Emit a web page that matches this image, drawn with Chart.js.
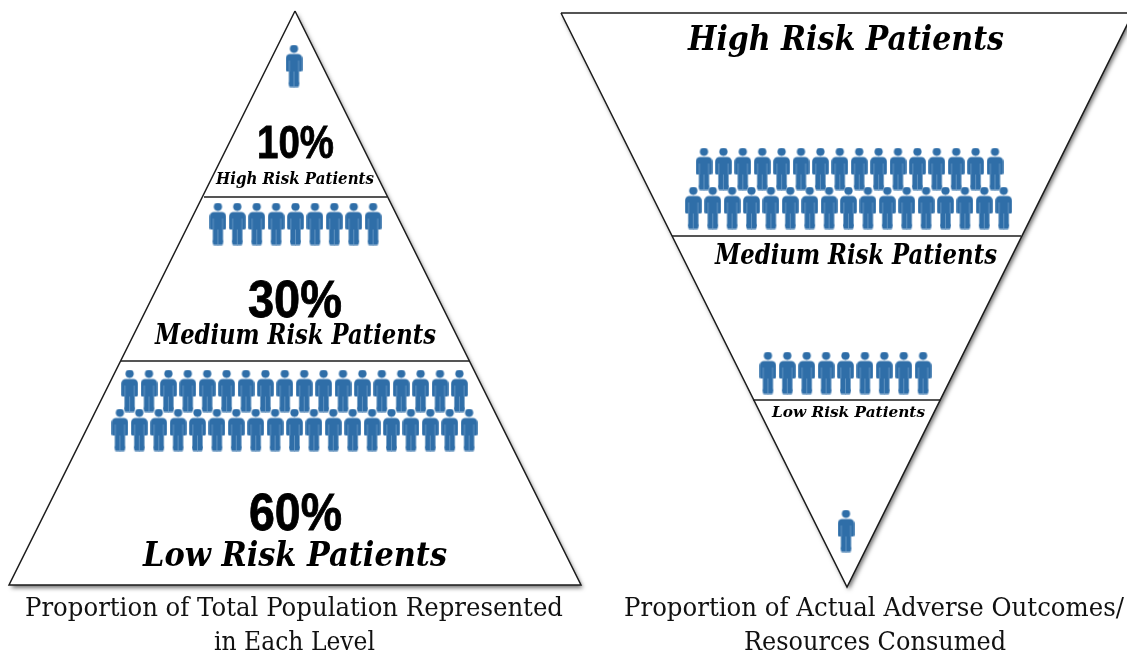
<!DOCTYPE html>
<html>
<head>
<meta charset="utf-8">
<style>
  html, body { margin:0; padding:0; background:#fff; }
  canvas { display:block; }
</style>
<script src="https://cdn.jsdelivr.net/npm/chart.js@4/dist/chart.umd.min.js"></script>
</head>
<body>
<canvas id="pyramids" width="1127" height="656"></canvas>
<script>
// ── DATA ────────────────────────────────────────────────
const levels = ['High Risk Patients', 'Medium Risk Patients', 'Low Risk Patients'];
const populationShare = [10, 30, 60];

// people icons per row, top to bottom
const populationRows = [1, 9, 18, 19];
const outcomeRows    = [16, 17, 9, 1];

const populationCaption = ['Proportion of Total Population Represented', 'in Each Level'];
const outcomeCaption    = ['Proportion of Actual Adverse Outcomes/', 'Resources Consumed'];

// ── LAYOUT ──────────────────────────────────────────────
const INK = '#1c1c1c';
const BLUE = '#2f6ea8';
const SLOT = 19.4;

const leftTriangle  = [{x:295,y:11},{x:581,y:585},{x:9,y:585},{x:295,y:11}];
const rightTriangle = [{x:561,y:13},{x:1133,y:13},{x:847,y:587},{x:561,y:13}];
const dividers = [
  [{x:204,y:197},{x:387,y:197}],
  [{x:121,y:361},{x:469,y:361}],
  [{x:672,y:236},{x:1021,y:236}],
  [{x:753,y:400},{x:941,y:400}],
];
const leftRowPlace  = [{cx:294,y:66},{cx:295.5,y:224},{cx:294.5,y:391},{cx:294.5,y:430}];
const rightRowPlace = [{cx:849.5,y:169},{cx:848.5,y:208},{cx:845.5,y:373},{cx:846,y:531}];

const SERIF = "'DejaVu Serif'";
const SANS  = "'Liberation Sans'";
const textMarks = [
  { t:`${populationShare[0]}%`, x:295.5, y:158, w:77,  font:`bold 46px ${SANS}`, heavy:0.8 },
  { t:levels[0], x:295,   y:184, w:158, font:`italic bold 16px ${SERIF}` },
  { t:`${populationShare[1]}%`, x:295,   y:317, w:94,  font:`bold 52px ${SANS}`, heavy:0.8 },
  { t:levels[1], x:295.5, y:344, w:281, font:`italic bold 27px ${SERIF}` },
  { t:`${populationShare[2]}%`, x:295.5, y:530, w:93,  font:`bold 52px ${SANS}`, heavy:0.8 },
  { t:levels[2], x:295,   y:566, w:304, font:`italic bold 33px ${SERIF}` },
  { t:levels[0], x:846,   y:50,  w:316, font:`italic bold 34px ${SERIF}` },
  { t:levels[1], x:856,   y:264, w:282, font:`italic bold 27px ${SERIF}` },
  { t:levels[2], x:848.5, y:417, w:153, font:`italic bold 15px ${SERIF}` },
  { t:populationCaption[0], x:294, y:616, w:538, font:`26px ${SERIF}`, color:'#111' },
  { t:populationCaption[1], x:294.5, y:650, w:161, font:`26px ${SERIF}`, color:'#111' },
  { t:outcomeCaption[0], x:874, y:616, w:500, font:`26px ${SERIF}`, color:'#111' },
  { t:outcomeCaption[1], x:875, y:650, w:262, font:`26px ${SERIF}`, color:'#111' },
];

// ── PERSON ICON ─────────────────────────────────────────
const makePerson = () => {
  const c = document.createElement('canvas');
  c.width = 17; c.height = 43;
  const g = c.getContext('2d');
  g.fillStyle = BLUE;
  g.beginPath(); g.arc(8.5, 4.3, 4.1, 0, Math.PI * 2); g.fill();
  // shoulders + arms + torso
  g.beginPath();
  g.roundRect(0.2, 9.5, 16.6, 17.5, [4.5, 4.5, 1.5, 1.5]);
  g.fill();
  // legs
  g.fillRect(3.4, 24, 10.2, 16);
  g.beginPath(); g.roundRect(3.4, 37, 10.2, 5.6, 1.5); g.fill();
  // lighter slits between arms, body and legs
  g.fillStyle = '#6d9cc7';
  g.fillRect(3.5, 16, 0.8, 11);
  g.fillRect(12.7, 16, 0.8, 11);
  g.fillRect(8.1, 27, 0.8, 15.6);
  return c;
};
const personIcon = makePerson();

const rowPoints = (counts, places) => counts.flatMap((n, r) =>
  Array.from({ length:n }, (_, i) => ({
    x: places[r].cx + (i - (n - 1) / 2) * SLOT,
    y: places[r].y,
  }))
);

// ── PLUGINS ─────────────────────────────────────────────
const triangleShadow = {
  id: 'triangleShadow',
  beforeDatasetsDraw(chart) {
    const ctx = chart.ctx;
    ctx.shadowColor = 'rgba(0,0,0,0.55)';
    ctx.shadowBlur = 4;
    ctx.shadowOffsetX = 2;
    ctx.shadowOffsetY = 3;
  },
  afterDatasetDraw(chart, args) {
    // left fill is the last one painted that wants a shadow
    if (args.index === chart.data.datasets.length - 2) {
      const ctx = chart.ctx;
      ctx.shadowColor = 'transparent';
      ctx.shadowBlur = 0;
      ctx.shadowOffsetX = 0;
      ctx.shadowOffsetY = 0;
    }
  },
};

const textLayer = {
  id: 'textLayer',
  afterDatasetsDraw(chart) {
    const { ctx, scales:{ x, y } } = chart;
    textMarks.forEach(m => {
      ctx.save();
      ctx.font = m.font;
      ctx.fillStyle = m.color || '#000';
      ctx.strokeStyle = m.color || '#000';
      ctx.textAlign = 'center';
      ctx.textBaseline = 'alphabetic';
      ctx.translate(x.getPixelForValue(m.x), y.getPixelForValue(m.y));
      ctx.scale(m.w / ctx.measureText(m.t).width, 1);
      ctx.fillText(m.t, 0, 0);
      if (m.heavy) { ctx.lineWidth = m.heavy; ctx.strokeText(m.t, 0, 0); }
      ctx.restore();
    });
  },
};

// ── CHART ───────────────────────────────────────────────
const lineSet = (data, order) => ({
  data, order,
  showLine: true,
  borderColor: INK,
  borderWidth: 1.5,
  pointRadius: 0,
  tension: 0,
});

const fillSet = (data) => ({
  data,
  order: 3,
  showLine: true,
  borderWidth: 0,
  borderColor: 'transparent',
  pointRadius: 0,
  fill: 'shape',
  backgroundColor: '#fff',
});

const peopleSet = (data) => ({
  data,
  order: 0,
  showLine: false,
  pointStyle: personIcon,
  pointRadius: 10,
});

new Chart(document.getElementById('pyramids'), {
  type: 'scatter',
  data: {
    datasets: [
      peopleSet(rowPoints(populationRows, leftRowPlace)),
      peopleSet(rowPoints(outcomeRows, rightRowPlace)),
      ...dividers.map(d => lineSet(d, 1)),
      lineSet(leftTriangle, 2),
      lineSet(rightTriangle, 2),
      fillSet(leftTriangle),
      fillSet(rightTriangle),
    ],
  },
  options: {
    responsive: false,
    animation: false,
    layout: { padding: 0, autoPadding: false },
    plugins: { legend:{ display:false }, tooltip:{ enabled:false }, title:{ display:false } },
    scales: {
      x: { type:'linear', display:false, min:0, max:1127 },
      y: { type:'linear', display:false, min:0, max:656, reverse:true },
    },
  },
  plugins: [triangleShadow, textLayer],
});
</script>
</body>
</html>
